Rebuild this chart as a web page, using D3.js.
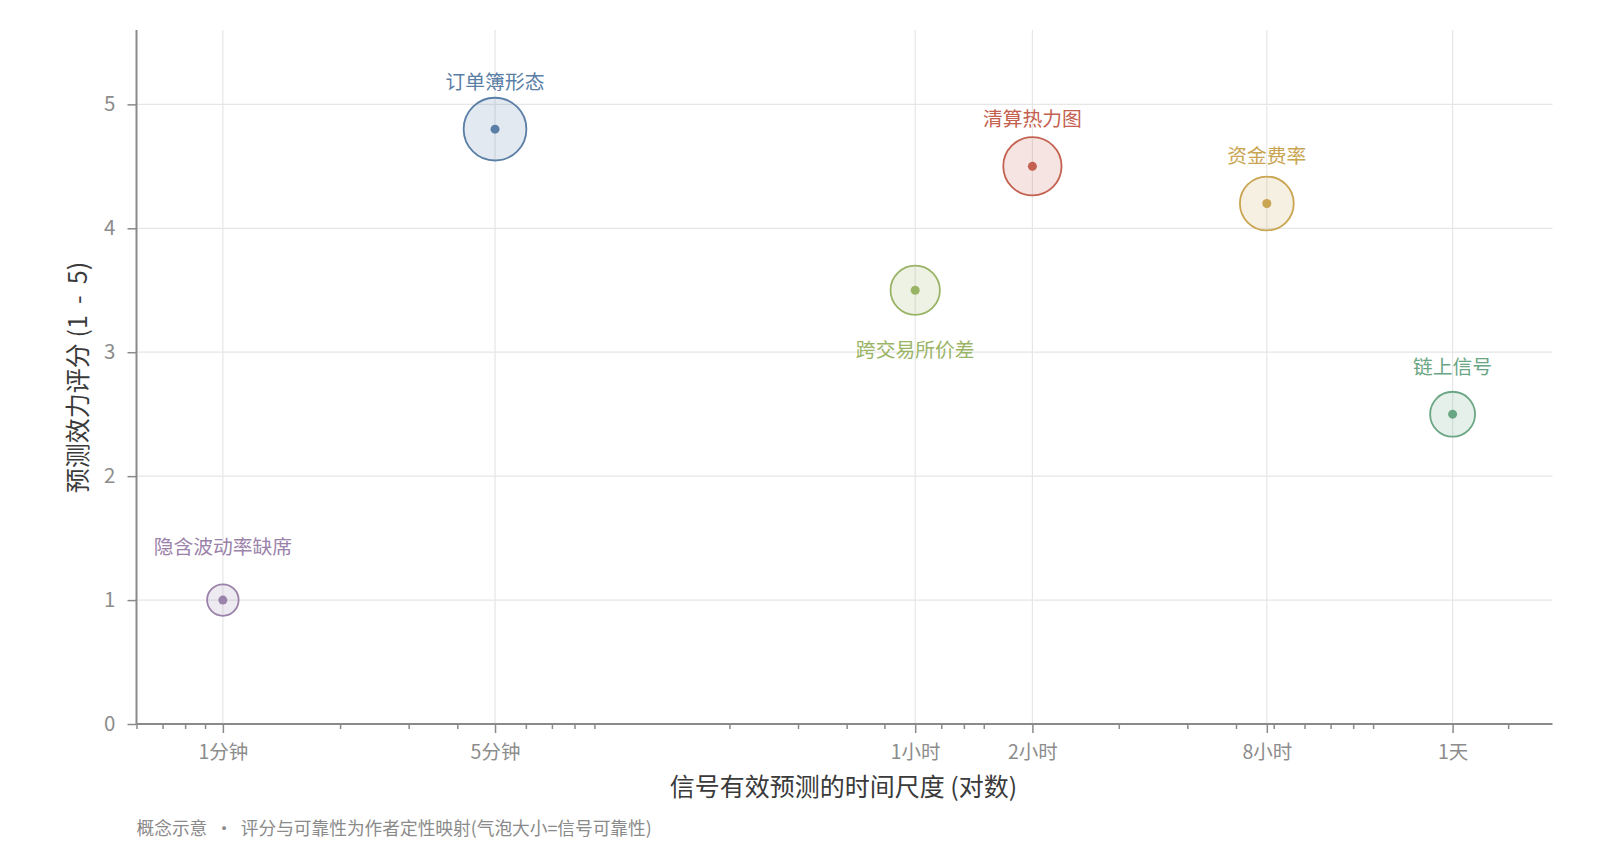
<!DOCTYPE html>
<html>
<head>
<meta charset="utf-8">
<script src="https://cdn.jsdelivr.net/npm/d3@7/dist/d3.min.js"></script>
<style>
  html, body { margin: 0; padding: 0; background: #ffffff; }
  svg { display: block; font-family: "Noto Sans CJK SC", "Noto Sans", sans-serif; }
</style>
</head>
<body>
<svg id="chart" width="1600" height="867"></svg>
<script>
// ---- data ----
const names = ["订单簿形态", "清算热力图", "跨交易所价差", "资金费率", "链上信号", "隐含波动率缺席"];
const horizonMinutes = [5, 120, 60, 480, 1440, 1];
const scores = [4.8, 4.5, 3.5, 4.2, 2.5, 1.0];
const reliability = [0.9, 0.8, 0.6, 0.7, 0.5, 0.2];
const colors = ["#5a7ea6", "#c4604f", "#9ab466", "#c9a552", "#6aa684", "#9b82aa"];
const majorTicks = [1, 5, 60, 120, 480, 1440];
const majorLabels = ["1分钟", "5分钟", "1小时", "2小时", "8小时", "1天"];
const yTicks = [0, 1, 2, 3, 4, 5];
const xTitle = "信号有效预测的时间尺度 (对数)";
const yTitle = "预测效力评分 (1 - 5)";
const caption = "概念示意  ·  评分与可靠性为作者定性映射(气泡大小=信号可靠性)";

// ---- layout ----
const pLeft = 136.5, pRight = 1552.5, pTop = 30, pBottom = 724;
const svg = d3.select("#chart");

const x = d3.scaleLog().domain([0.6, 2600]).range([pLeft, pRight]);
const y = d3.scaleLinear().domain([0, 5.6]).range([pBottom, pTop]);
const r = d3.scaleLinear().domain([0, 1]).range([11.3, 33.6]);

const axisColor = "#8a8a8a";
const gridColor = "#e6e6e6";
const tickText = "#8c8c8c";

// grid
svg.append("g").selectAll("line").data(yTicks.filter(d => d > 0)).join("line")
  .attr("x1", pLeft).attr("x2", pRight)
  .attr("y1", d => y(d)).attr("y2", d => y(d))
  .attr("stroke", gridColor).attr("stroke-width", 1.2);
svg.append("g").selectAll("line").data(majorTicks).join("line")
  .attr("x1", d => x(d)).attr("x2", d => x(d))
  .attr("y1", pTop).attr("y2", pBottom)
  .attr("stroke", gridColor).attr("stroke-width", 1.2);

// minor x ticks
const minor = x.ticks().filter(d => !majorTicks.includes(d) && Math.abs(Math.log10(d) - Math.round(Math.log10(d))) > 1e-9);
const xMinorAxis = d3.axisBottom(x).tickValues(minor).tickSize(5).tickFormat("");
const gxm = svg.append("g").attr("transform", `translate(0,${pBottom})`).call(xMinorAxis);
gxm.select(".domain").remove();
gxm.selectAll(".tick line").attr("stroke", axisColor).attr("stroke-width", 1.5);

// major x axis
const xAxis = d3.axisBottom(x).tickValues(majorTicks).tickSize(9).tickPadding(12)
  .tickFormat((d, i) => majorLabels[i]);
const gx = svg.append("g").attr("transform", `translate(0,${pBottom})`).call(xAxis);
gx.select(".domain").attr("stroke", axisColor).attr("stroke-width", 2).attr("d", `M${pLeft},0H${pRight}`);
gx.selectAll(".tick line").attr("stroke", axisColor).attr("stroke-width", 1.5);
gx.selectAll(".tick text").attr("fill", tickText).attr("font-size", 19.5)
  .attr("font-family", "'Noto Sans CJK SC', sans-serif");

// y axis
const yAxis = d3.axisLeft(y).tickValues(yTicks).tickSize(9).tickPadding(12).tickFormat(d3.format("d"));
const gy = svg.append("g").attr("transform", `translate(${pLeft},0)`).call(yAxis);
gy.select(".domain").attr("stroke", axisColor).attr("stroke-width", 2).attr("d", `M0,${pTop}V${pBottom}`);
gy.selectAll(".tick line").attr("stroke", axisColor).attr("stroke-width", 1.5);
gy.selectAll(".tick text").attr("fill", tickText).attr("font-size", 20.5)
  .attr("font-family", "'Noto Sans CJK SC', sans-serif");

// bubbles
const data = names.map((n, i) => ({ name: n, t: horizonMinutes[i], s: scores[i], rel: reliability[i], c: colors[i] }));
const labelBelow = { "跨交易所价差": true };
const labelOffset = { "隐含波动率缺席": 53 };

const g = svg.append("g");
const items = g.selectAll("g").data(data).join("g");
items.append("circle")
  .attr("cx", d => x(d.t)).attr("cy", d => y(d.s)).attr("r", d => r(d.rel))
  .attr("fill", d => d.c).attr("fill-opacity", 0.17)
  .attr("stroke", d => d.c).attr("stroke-width", 1.8);
items.append("circle")
  .attr("cx", d => x(d.t)).attr("cy", d => y(d.s)).attr("r", 4.5)
  .attr("fill", d => d.c);
items.append("text")
  .attr("x", d => x(d.t))
  .attr("y", d => labelBelow[d.name] ? y(d.s) + 60 : y(d.s) - (labelOffset[d.name] || 47.5))
  .attr("dy", "0.35em")
  .attr("text-anchor", "middle")
  .attr("font-size", 19.8)
  .attr("fill", d => d.c)
  .text(d => d.name);

// axis titles
svg.append("text")
  .attr("x", (pLeft + pRight) / 2 - 1).attr("y", 787).attr("dy", "0.35em")
  .attr("text-anchor", "middle").attr("font-size", 25).attr("fill", "#3a3a3a")
  .text(xTitle);
svg.append("text")
  .attr("transform", `translate(78.5,377.5) rotate(-90)`)
  .attr("dy", "0.35em")
  .attr("text-anchor", "middle").attr("font-size", 25).attr("fill", "#3a3a3a")
  .style("white-space", "pre")
  .text("预测效力评分 (1 - 5)".replace("(1 - 5)", "(1  -  5)"));

// caption
svg.append("text")
  .attr("x", pLeft).attr("y", 829).attr("dy", "0.35em")
  .attr("font-size", 17.7).attr("fill", "#8a8a8a")
  .style("white-space", "pre")
  .text(caption);
</script>
</body>
</html>
